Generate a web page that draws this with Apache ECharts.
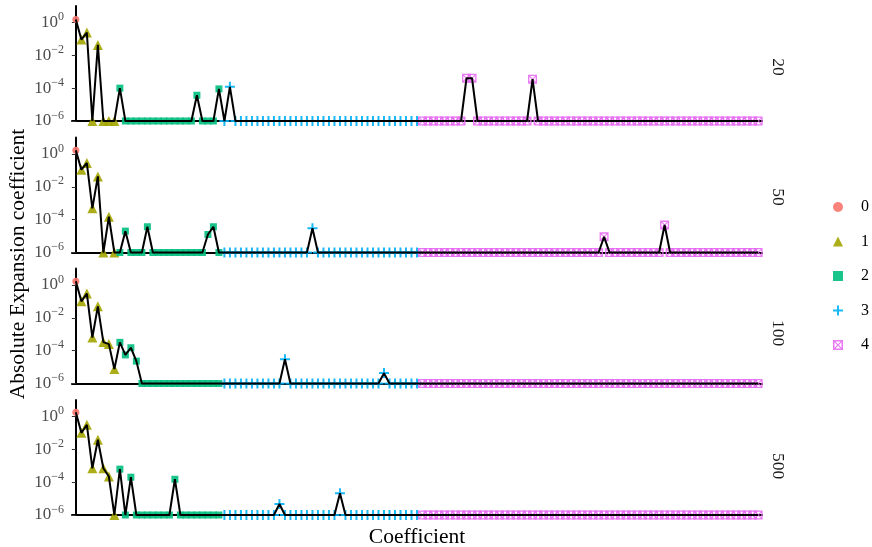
<!DOCTYPE html>
<html><head><meta charset="utf-8">
<script src="https://cdn.jsdelivr.net/npm/echarts@6/dist/echarts.min.js"></script>
<style>html,body{margin:0;padding:0;background:#fff}#c{width:872px;height:547px}</style>
</head><body><div id="c"></div>
<script>
const F = 1e-6;
const panelLabels = ['20', '50', '100', '500'];
const groupNames = ['0', '1', '2', '3', '4'];
const groupSizes = [1, 7, 19, 36, 62];
const groupColors = ['#F8766D', '#A3A500', '#00BF7D', '#00B0F6', '#E76BF3'];
const yTickValues = [1e-6, 1e-4, 1e-2, 1];

const vals20 = [
  1.5, 0.09, 0.24, F, 0.043, F, F, F, 1e-4, F,
  F, F, F, F, F, F, F, F, F, F,
  F, F, 3.7e-5, F, F, F, 9e-5, F, 1.2e-4, F,
  F, F, F, F, F, F, F, F, F, F,
  F, F, F, F, F, F, F, F, F, F,
  F, F, F, F, F, F, F, F, F, F,
  F, F, F, F, F, F, F, F, F, F,
  F, 4e-4, 4e-4, F, F, F, F, F, F, F,
  F, F, F, 3.5e-4, F, F, F, F, F, F,
  F, F, F, F, F, F, F, F, F, F,
  F, F, F, F, F, F, F, F, F, F,
  F, F, F, F, F, F, F, F, F, F,
  F, F, F, F, F
];
const vals50 = [
  1.65, 0.11, 0.28, 4.9e-4, 0.043, F, 1.5e-4, F, F, 2e-5,
  F, F, F, 3.7e-5, F, F, F, F, F, F,
  F, F, F, F, 1.25e-5, 3.7e-5, F, F, F, F,
  F, F, F, F, F, F, F, F, F, F,
  F, F, F, 3e-5, F, F, F, F, F, F,
  F, F, F, F, F, F, F, F, F, F,
  F, F, F, F, F, F, F, F, F, F,
  F, F, F, F, F, F, F, F, F, F,
  F, F, F, F, F, F, F, F, F, F,
  F, F, F, F, F, F, 9e-6, F, F, F,
  F, F, F, F, F, F, F, 4.7e-5, F, F,
  F, F, F, F, F, F, F, F, F, F,
  F, F, F, F, F
];
const vals100 = [
  1.7, 0.1, 0.3, 6.3e-4, 0.05, 3.3e-4, 2.5e-4, 7.6e-6, 3.2e-4, 5.5e-5,
  1.5e-4, 2.3e-5, F, F, F, F, F, F, F, F,
  F, F, F, F, F, F, F, F, F, F,
  F, F, F, F, F, F, F, F, 3e-5, F,
  F, F, F, F, F, F, F, F, F, F,
  F, F, F, F, F, F, 4.3e-6, F, F, F,
  F, F, F, F, F, F, F, F, F, F,
  F, F, F, F, F, F, F, F, F, F,
  F, F, F, F, F, F, F, F, F, F,
  F, F, F, F, F, F, F, F, F, F,
  F, F, F, F, F, F, F, F, F, F,
  F, F, F, F, F, F, F, F, F, F,
  F, F, F, F, F
];
const vals500 = [
  1.8, 0.1, 0.31, 7e-4, 0.038, 7e-4, 2.2e-4, F, 6.2e-4, F,
  2e-4, F, F, F, F, F, F, F, 1.5e-4, F,
  F, F, F, F, F, F, F, F, F, F,
  F, F, F, F, F, F, F, 4.7e-6, F, F,
  F, F, F, F, F, F, F, F, 2.1e-5, F,
  F, F, F, F, F, F, F, F, F, F,
  F, F, F, F, F, F, F, F, F, F,
  F, F, F, F, F, F, F, F, F, F,
  F, F, F, F, F, F, F, F, F, F,
  F, F, F, F, F, F, F, F, F, F,
  F, F, F, F, F, F, F, F, F, F,
  F, F, F, F, F, F, F, F, F, F,
  F, F, F, F, F
];
const panelValues = [vals20, vals50, vals100, vals500];

const PLUS = 'path://M4,0H6V4H10V6H6V10H4V6H0V4H4Z';
const SQX = 'path://M0,0H10V10H0Z M1.5,1.5V8.5H8.5V1.5Z M0,0.8L0.8,0L10,9.2L9.2,10Z M10,0.8L0.8,10L0,9.2L9.2,0Z';
const groupSymbols = ['circle', 'triangle', 'rect', PLUS, SQX];
const groupSymbolSizes = [7, 10, 7, 10, 9];

const gridTops = [6, 137.5, 268.5, 400];
const gridH = 115;
const FONT = '"Liberation Serif", "DejaVu Serif", serif';

// group index for each coefficient
const groupOf = [];
groupSizes.forEach((n, g) => { for (let k = 0; k < n; k++) groupOf.push(g); });

const grids = [], xAxes = [], yAxes = [], series = [];
panelValues.forEach((vals, p) => {
  grids.push({ left: 72, width: 690, top: gridTops[p], height: gridH });
  xAxes.push({
    gridIndex: p, type: 'value', min: -0.7, max: vals.length - 1 + 0.7,
    axisLine: { show: true, onZero: false, lineStyle: { color: '#000', width: 2 } },
    axisTick: { show: false }, axisLabel: { show: false }, splitLine: { show: false }
  });
  yAxes.push({
    gridIndex: p, type: 'log', logBase: 10, min: 1e-6, max: 10,
    axisLine: { show: true, lineStyle: { color: '#000', width: 2 } },
    axisTick: { show: true, length: 4, customValues: yTickValues, lineStyle: { color: '#333', width: 1 } },
    axisLabel: {
      customValues: yTickValues, margin: 8,
      formatter: v => {
        const e = Math.round(Math.log10(v));
        return '{b|10}{s|' + (e < 0 ? '\u2212' + (-e) : e) + '}';
      },
      rich: {
        b: { fontFamily: FONT, fontSize: 17, color: '#4d4d4d', verticalAlign: 'bottom', lineHeight: 17 },
        s: { fontFamily: FONT, fontSize: 12, color: '#4d4d4d', verticalAlign: 'bottom', lineHeight: 12, padding: [0, 0, 8, 0] }
      }
    },
    splitLine: { show: false }
  });
  groupNames.forEach((name, g) => {
    const data = [];
    vals.forEach((v, i) => { if (groupOf[i] === g) data.push([i, v]); });
    series.push({
      name, type: 'scatter', xAxisIndex: p, yAxisIndex: p, data,
      symbol: groupSymbols[g], symbolSize: groupSymbolSizes[g],
      itemStyle: { color: groupColors[g], opacity: 0.9 }, z: 2, clip: false
    });
  });
  series.push({
    type: 'line', xAxisIndex: p, yAxisIndex: p,
    data: vals.map((v, i) => [i, v]),
    symbol: 'none', showSymbol: false,
    lineStyle: { color: '#000', width: 2 }, z: 3, clip: false
  });
});

const graphic = [
  { type: 'text', x: 18, y: 264, rotation: Math.PI / 2,
    style: { text: 'Absolute Expansion coefficient', fontFamily: FONT, fontSize: 21.5, fill: '#000', align: 'center', verticalAlign: 'middle' } },
  { type: 'text', x: 417, y: 537,
    style: { text: 'Coefficient', fontFamily: FONT, fontSize: 21.5, fill: '#000', align: 'center', verticalAlign: 'middle' } }
];
const stripY = [67, 197, 333, 466];
panelLabels.forEach((lab, p) => {
  graphic.push({ type: 'text', x: 778, y: stripY[p], rotation: -Math.PI / 2,
    style: { text: lab, fontFamily: FONT, fontSize: 17.5, fill: '#1a1a1a', align: 'center', verticalAlign: 'middle' } });
});

const chart = echarts.init(document.getElementById('c'), null, { renderer: 'canvas' });
chart.setOption({
  animation: false,
  backgroundColor: '#fff',
  grid: grids, xAxis: xAxes, yAxis: yAxes, series,
  legend: {
    orient: 'vertical', left: 828, top: 194, itemWidth: 10, itemHeight: 10, itemGap: 18.5,
    data: groupNames.map((n, g) => ({ name: n, icon: groupSymbols[g] })),
    textStyle: { fontFamily: FONT, fontSize: 16, color: '#000', padding: [0, 0, 0, 13] }
  },
  graphic
});
</script></body></html>
